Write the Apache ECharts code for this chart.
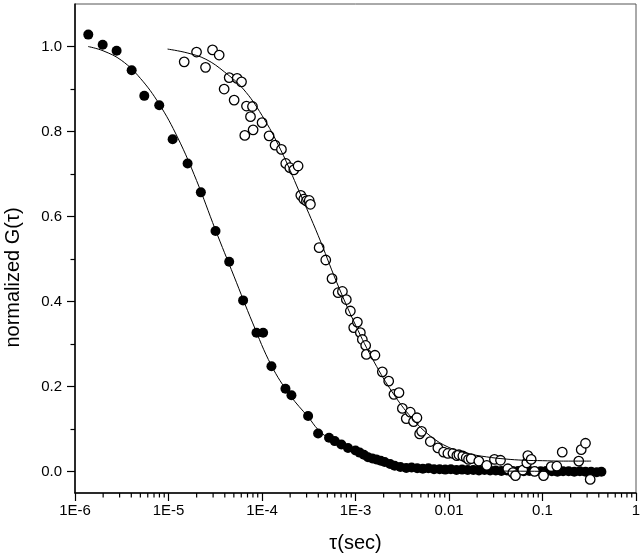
<!DOCTYPE html>
<html>
<head>
<meta charset="utf-8">
<script src="https://cdn.jsdelivr.net/npm/echarts@6/dist/echarts.min.js"></script>
<style>html,body{margin:0;padding:0;background:#fff}#c{width:640px;height:559px}</style>
</head>
<body>
<div id="c"></div>
<script>
// ---- data (tau in seconds, normalized G) ----
const filledTau = [1.387e-6,1.977e-6,2.786e-6,4.036e-6,5.508e-6,7.96e-6,1.107e-5,1.600e-5,2.218e-5,3.184e-5,4.457e-5,6.281e-5,8.73e-5,1.028e-4,1.262e-4,1.782e-4,2.065e-4,3.112e-4,3.981e-4,5.212e-4,5.998e-4,7.063e-4,8.318e-4,1.0e-3,1.109e-3,1.230e-3,1.361e-3,1.514e-3,1.671e-3,1.862e-3,2.051e-3,2.344e-3,2.624e-3,3.020e-3,3.491e-3,3.981e-3,4.571e-3,5.248e-3,6.026e-3,6.918e-3,7.943e-3,9.120e-3,1.047e-2,1.202e-2,1.380e-2,1.585e-2,1.820e-2,2.089e-2,2.399e-2,2.754e-2,3.162e-2,3.631e-2,4.169e-2,4.786e-2,5.495e-2,6.310e-2,7.244e-2,8.318e-2,9.550e-2,0.1096,0.1259,0.1445,0.1660,0.1905,0.2188,0.2512,0.2884,0.3311,0.3802,0.4266];
const filledG = [1.028,1.004,0.990,0.944,0.884,0.862,0.782,0.725,0.657,0.566,0.494,0.403,0.327,0.327,0.248,0.195,0.180,0.131,0.090,0.080,0.072,0.064,0.056,0.050,0.045,0.040,0.034,0.031,0.029,0.026,0.023,0.018,0.014,0.011,0.009,0.010,0.008,0.007,0.008,0.006,0.006,0.005,0.006,0.004,0.005,0.004,0.004,0.003,0.004,0.003,0.003,0.002,0.003,0.002,0.002,0.001,0.002,0.001,0.001,0.002,0.001,0.000,0.001,0.001,0.000,0.001,0.000,0.000,-0.001,0.000];

const openTau = [1.472e-5,1.995e-5,2.489e-5,2.958e-5,3.483e-5,3.936e-5,4.457e-5,5.035e-5,5.420e-5,6.039e-5,6.546e-5,6.823e-5,7.534e-5,7.907e-5,8.035e-5,1.002e-4,1.191e-4,1.380e-4,1.614e-4,1.795e-4,1.982e-4,2.188e-4,2.432e-4,2.600e-4,2.799e-4,2.985e-4,3.199e-4,3.296e-4,4.083e-4,4.808e-4,5.610e-4,6.516e-4,7.244e-4,7.980e-4,8.810e-4,9.572e-4,1.047e-3,1.127e-3,1.183e-3,1.285e-3,1.306e-3,1.614e-3,1.936e-3,2.265e-3,2.576e-3,2.917e-3,3.170e-3,3.491e-3,3.855e-3,4.178e-3,4.539e-3,4.853e-3,5.093e-3,6.310e-3,7.603e-3,8.750e-3,9.727e-3,1.102e-2,1.213e-2,1.276e-2,1.406e-2,1.528e-2,1.618e-2,1.726e-2,2.084e-2,2.535e-2,3.062e-2,3.556e-2,4.256e-2,4.819e-2,5.140e-2,6.152e-2,6.792e-2,6.966e-2,7.568e-2,8.222e-2,0.1026,0.1239,0.1422,0.1626,0.2443,0.2594,0.2884,0.3236];
const openG = [0.964,0.987,0.951,0.992,0.980,0.900,0.927,0.874,0.925,0.917,0.791,0.860,0.835,0.859,0.804,0.821,0.790,0.768,0.758,0.725,0.715,0.710,0.719,0.650,0.641,0.637,0.638,0.629,0.527,0.498,0.454,0.421,0.424,0.405,0.378,0.339,0.352,0.327,0.311,0.297,0.276,0.274,0.235,0.213,0.182,0.186,0.149,0.125,0.140,0.118,0.127,0.089,0.095,0.071,0.056,0.046,0.043,0.043,0.038,0.040,0.037,0.033,0.029,0.031,0.025,0.015,0.029,0.027,0.007,-0.002,-0.009,0.004,0.021,0.038,0.029,0.001,-0.009,0.012,0.013,0.046,0.025,0.052,0.067,-0.018];

const filledFitTau = [1.380e-6,1.995e-6,3.162e-6,5.012e-6,7.943e-6,1.259e-5,1.995e-5,3.162e-5,5.012e-5,7.943e-5,1.259e-4,1.995e-4,3.162e-4,3.981e-4,5.012e-4,7.943e-4,1.259e-3,1.995e-3,3.162e-3,5.012e-3,1.0e-2,2.512e-2,0.1,0.4365];
const filledFitG = [1.000,0.990,0.967,0.925,0.865,0.785,0.685,0.570,0.460,0.350,0.250,0.180,0.127,0.099,0.081,0.060,0.040,0.025,0.013,0.008,0.004,0.002,0.001,0.000];

const openFitTau = [9.772e-6,1.585e-5,2.512e-5,3.981e-5,6.310e-5,1.0e-4,1.585e-4,2.512e-4,3.981e-4,6.310e-4,1.0e-3,1.585e-3,2.512e-3,3.981e-3,6.310e-3,1.0e-2,1.585e-2,2.512e-2,3.981e-2,6.310e-2,0.1,0.1585,0.3311];
const openFitG = [0.994,0.985,0.970,0.940,0.900,0.838,0.757,0.658,0.556,0.445,0.345,0.258,0.185,0.127,0.084,0.057,0.043,0.035,0.030,0.027,0.026,0.025,0.025];

const xTickLabels = ['1E-6','1E-5','1E-4','1E-3','0.01','0.1','1'];
const xMinorTicks = [];
[1e-6,1e-5,1e-4,1e-3,1e-2,1e-1].forEach(function(d){ [2,3,4,5,6,7,8,9].forEach(function(m){ xMinorTicks.push(+(m*d).toPrecision(3)); }); });
const yTicks = [0.0,0.2,0.4,0.6,0.8,1.0];
const yMin = -0.05, yMax = 1.1;

// ---- chart ----
const chart = echarts.init(document.getElementById('c'), null, {renderer:'canvas'});
const FONT = '"Liberation Sans", Arial, sans-serif';
const zip = (a,b) => a.map((v,i)=>[v,b[i]]);

chart.setOption({
  animation:false,
  backgroundColor:'#fff',
  grid:{left:75,right:4,top:4,bottom:66,show:true,borderColor:'#555',borderWidth:1,containLabel:false,outerBoundsMode:'none'},
  xAxis:{
    type:'log', logBase:10, min:1e-6, max:1,
    name:'τ(sec)', nameLocation:'middle', nameGap:40,
    nameTextStyle:{fontFamily:FONT,fontSize:20,color:'#000'},
    axisLine:{show:true,onZero:false,lineStyle:{color:'#000',width:1.5}},
    axisTick:{show:true,inside:false,length:8,lineStyle:{color:'#000',width:1.2}},
    minorTick:{show:false},
    splitLine:{show:false},
    axisLabel:{fontFamily:FONT,fontSize:15,color:'#000',margin:10,
      formatter:function(v){ return xTickLabels[Math.round(Math.log10(v))+6]; }}
  },
  yAxis:{
    type:'value', min:yMin, max:yMax,
    name:'normalized G(τ)', nameLocation:'middle', nameGap:52,
    nameTextStyle:{fontFamily:FONT,fontSize:20,color:'#000',padding:[0,58,0,0]},
    axisLine:{show:true,onZero:false,lineStyle:{color:'#000',width:1.5}},
    axisTick:{show:true,inside:false,length:8,customValues:yTicks,lineStyle:{color:'#000',width:1.2}},
    minorTick:{show:true,splitNumber:2,length:4.5,lineStyle:{color:'#000',width:1.2}},
    splitLine:{show:false},
    axisLabel:{fontFamily:FONT,fontSize:15,color:'#000',margin:13,customValues:yTicks,
      formatter:function(v){ return v.toFixed(1); }}
  },
  series:[
    {type:'scatter', name:'filled', data:zip(filledTau,filledG), symbol:'circle', symbolSize:10,
      itemStyle:{color:'#000',opacity:1}, z:3},
    {type:'scatter', name:'open', data:zip(openTau,openG), symbol:'circle', symbolSize:9.5,
      itemStyle:{color:'#fff',borderColor:'#000',borderWidth:1.3,opacity:1}, z:4},
    {type:'line', name:'fitFilled', data:zip(filledFitTau,filledFitG), showSymbol:false, smooth:0.4,
      lineStyle:{color:'#000',width:1}, z:5},
    {type:'line', name:'fitOpen', data:zip(openFitTau,openFitG), showSymbol:false, smooth:0.4,
      lineStyle:{color:'#000',width:1}, z:5},
    {type:'custom', name:'xMinor', data:xMinorTicks.map(v=>[v,yMin]), clip:false, silent:true, z:6,
      encode:{x:0,y:1},
      renderItem:function(params, api){
        const p = api.coord([api.value(0), api.value(1)]);
        return {type:'line', shape:{x1:p[0],y1:p[1],x2:p[0],y2:p[1]+4.5}, style:{stroke:'#000',lineWidth:1.2}};
      }}
  ]
});
</script>
</body>
</html>
